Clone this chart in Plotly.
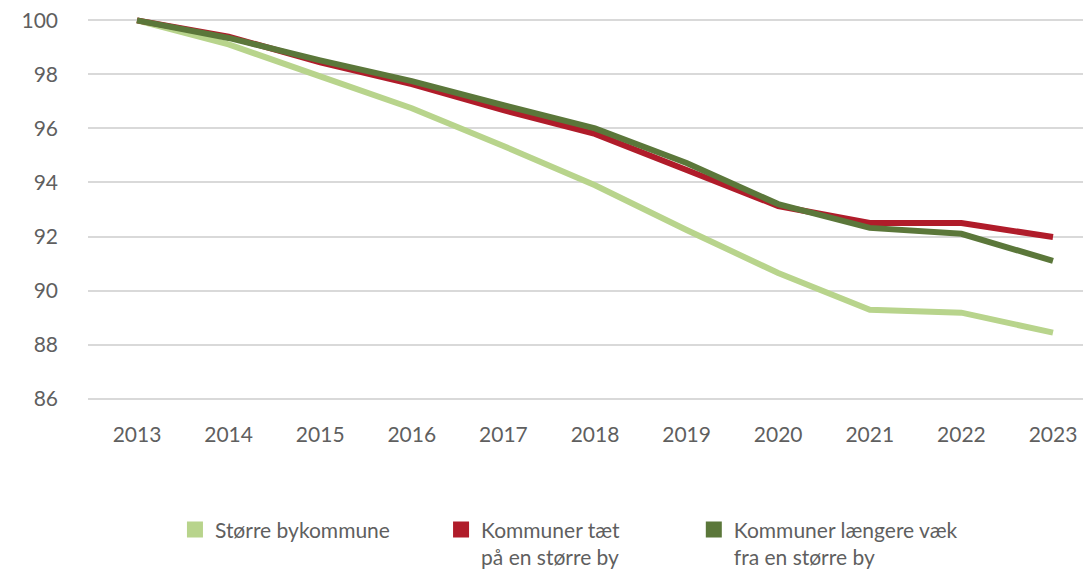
import plotly.graph_objects as go

years = ["2013", "2014", "2015", "2016", "2017", "2018", "2019", "2020", "2021", "2022", "2023"]
stoerre_by = [100, 99.11, 97.93, 96.75, 95.35, 93.9, 92.24, 90.65, 89.29, 89.18, 88.44]
taet_paa_by = [100, 99.4, 98.45, 97.64, 96.68, 95.8, 94.46, 93.13, 92.5, 92.5, 91.98]
laengere_vaek = [100, 99.35, 98.52, 97.75, 96.86, 96.0, 94.72, 93.2, 92.32, 92.1, 91.1]

names = ["Større bykommune", "Kommuner tæt<br>på en større by", "Kommuner længere væk<br>fra en større by"]
colors = ["#b8d48c", "#b01c2a", "#5b773a"]
series = [stoerre_by, taet_paa_by, laengere_vaek]

fig = go.Figure()
for vals, col in zip(series, colors):
    fig.add_trace(go.Scatter(x=years, y=vals, mode="lines", line=dict(color=col, width=6),
                             showlegend=False, hoverinfo="skip"))
# square swatches, one legend each so they can be placed freely
legend_ids = ["legend", "legend2", "legend3"]
for name, col, lg in zip(names, colors, legend_ids):
    fig.add_trace(go.Scatter(x=[None], y=[None], mode="markers", name=name, legend=lg,
                             marker=dict(symbol="square", size=17, color=col)))

leg = dict(orientation="h", y=-0.271, xanchor="left", yanchor="top", valign="top",
           font=dict(size=21, color="#5f5f5f"), itemsizing="trace", bgcolor="rgba(0,0,0,0)")

# page body has an 8px margin, so the figure is a bit smaller than the window
fig.update_layout(
    width=1083, height=561,
    paper_bgcolor="white", plot_bgcolor="white",
    margin=dict(l=80, r=0, t=7, b=165, autoexpand=False),
    font=dict(family="Lato", size=21, color="#5f5f5f"),
    xaxis=dict(type="category", range=[-0.535, 10.415], showgrid=False, showline=False,
               zeroline=False, ticks="", ticklabelstandoff=16, automargin=False,
               ticklabeloverflow="allow"),
    yaxis=dict(range=[85.8, 100.2], tickvals=[86, 88, 90, 92, 94, 96, 98, 100],
               showgrid=True, gridcolor="#d9d9d9", gridwidth=2, zeroline=False,
               showline=False, ticks="", ticklabelstandoff=29, automargin=False,
               ticklabeloverflow="allow"),
    legend=dict(leg, x=0.0867),
    legend2=dict(leg, x=0.352),
    legend3=dict(leg, x=0.604),
)

fig.write_html("out.html")
